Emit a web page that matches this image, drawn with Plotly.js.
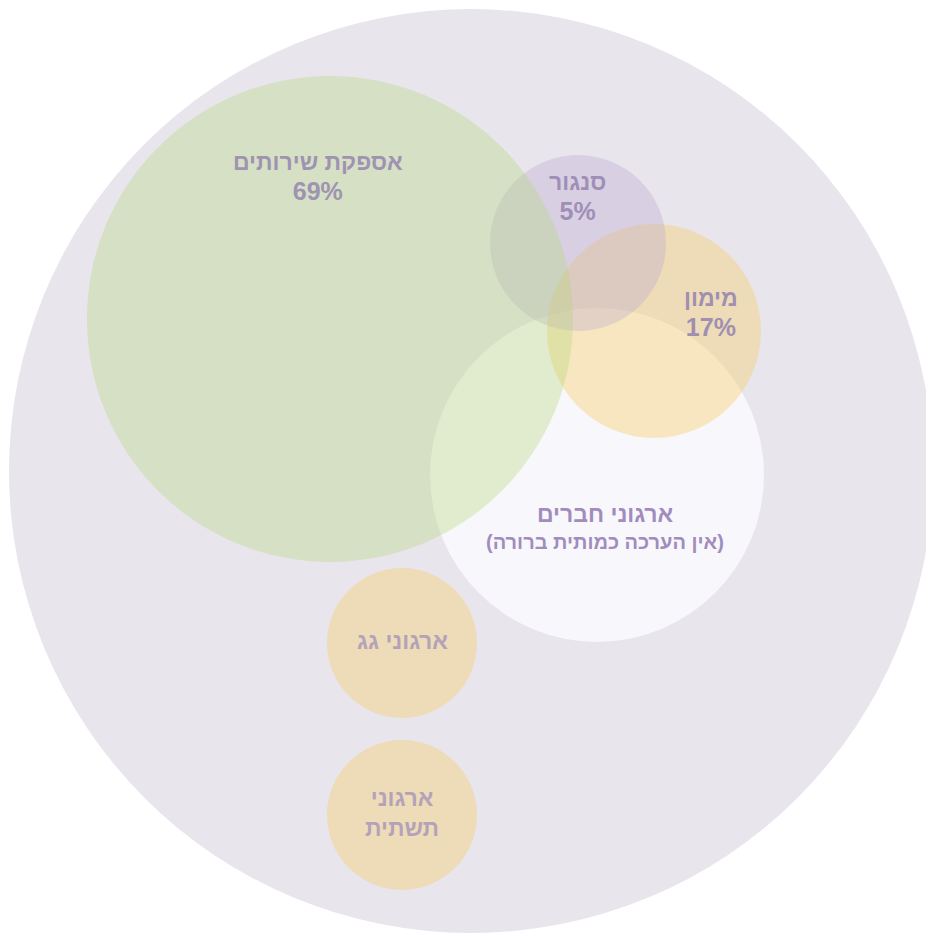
<!DOCTYPE html>
<html>
<head>
<meta charset="utf-8">
<script src="https://cdn.plot.ly/plotly-3.0.1.min.js"></script>
<style>html,body{margin:0;padding:0;background:#fff;}#chart{width:926px;height:933px;}</style>
</head>
<body>
<div id="chart"></div>
<script>
// Circles (data units), drawn in this order
const circleNames = ["כלל הארגונים", "ארגוני חברים", "מימון", "סנגור", "אספקת שירותים", "ארגוני גג", "ארגוני תשתית"];
const circleCX = [471, 597, 654, 578, 330, 402, 402];
const circleCY = [471, 475, 331, 243, 319, 643, 815];
const circleR  = [462, 167, 107, 88, 243, 75, 75];
const circleFill = ["#e8e5ed", "#f8f7fb", "rgb(247,206,104)", "rgb(186,169,206)", "rgb(181,215,120)", "rgb(247,206,104)", "rgb(247,206,104)"];
const circleOpacity = [1, 1, 0.4, 0.35, 0.35, 0.4, 0.4];

// Labels
const labelName = ["אספקת שירותים", "סנגור", "מימון", "ארגוני חברים", "(אין הערכה כמותית ברורה)", "ארגוני גג", "ארגוני<br>תשתית"];
const labelPct = ["69%", "5%", "17%", "", "", "", ""];
const labelX = [318, 577, 711, 605, 605, 402, 402];
const labelY = [177, 197, 313, 514, 542, 641, 813];
const labelSize = [23, 23, 23, 23, 20, 23, 23];
const labelColor = ["#9f93b2", "#9f8fb8", "#a08fb0", "#a18cbd", "#a18cbd", "#b4a3b8", "#b4a3b8"];

const shapes = circleNames.map((n, i) => ({
  type: "circle", xref: "x", yref: "y",
  x0: circleCX[i] - circleR[i], x1: circleCX[i] + circleR[i],
  y0: circleCY[i] - circleR[i], y1: circleCY[i] + circleR[i],
  fillcolor: circleFill[i], opacity: circleOpacity[i],
  line: {width: 0}, layer: "below"
}));

const annotations = labelName.map((t, i) => ({
  x: labelX[i], y: labelY[i], xref: "x", yref: "y",
  text: labelPct[i] ? t + "<br><span style='font-size:25px'>" + labelPct[i] + "</span>" : t,
  showarrow: false, xanchor: "center", yanchor: "middle",
  font: {family: "Liberation Sans, Arial, sans-serif", size: labelSize[i], color: labelColor[i], weight: "bold"}
}));

const data = [{x: circleCX, y: circleCY, type: "scatter", mode: "markers", marker: {opacity: 0}, hoverinfo: "skip", showlegend: false}];

const layout = {
  width: 926, height: 933,
  margin: {l: 0, r: 0, t: 0, b: 0},
  paper_bgcolor: "#ffffff", plot_bgcolor: "#ffffff",
  xaxis: {range: [0, 926], visible: false, fixedrange: true},
  yaxis: {range: [933, 0], visible: false, fixedrange: true},
  shapes: shapes, annotations: annotations, showlegend: false
};

Plotly.newPlot("chart", data, layout, {displayModeBar: false, staticPlot: true});
</script>
</body>
</html>
